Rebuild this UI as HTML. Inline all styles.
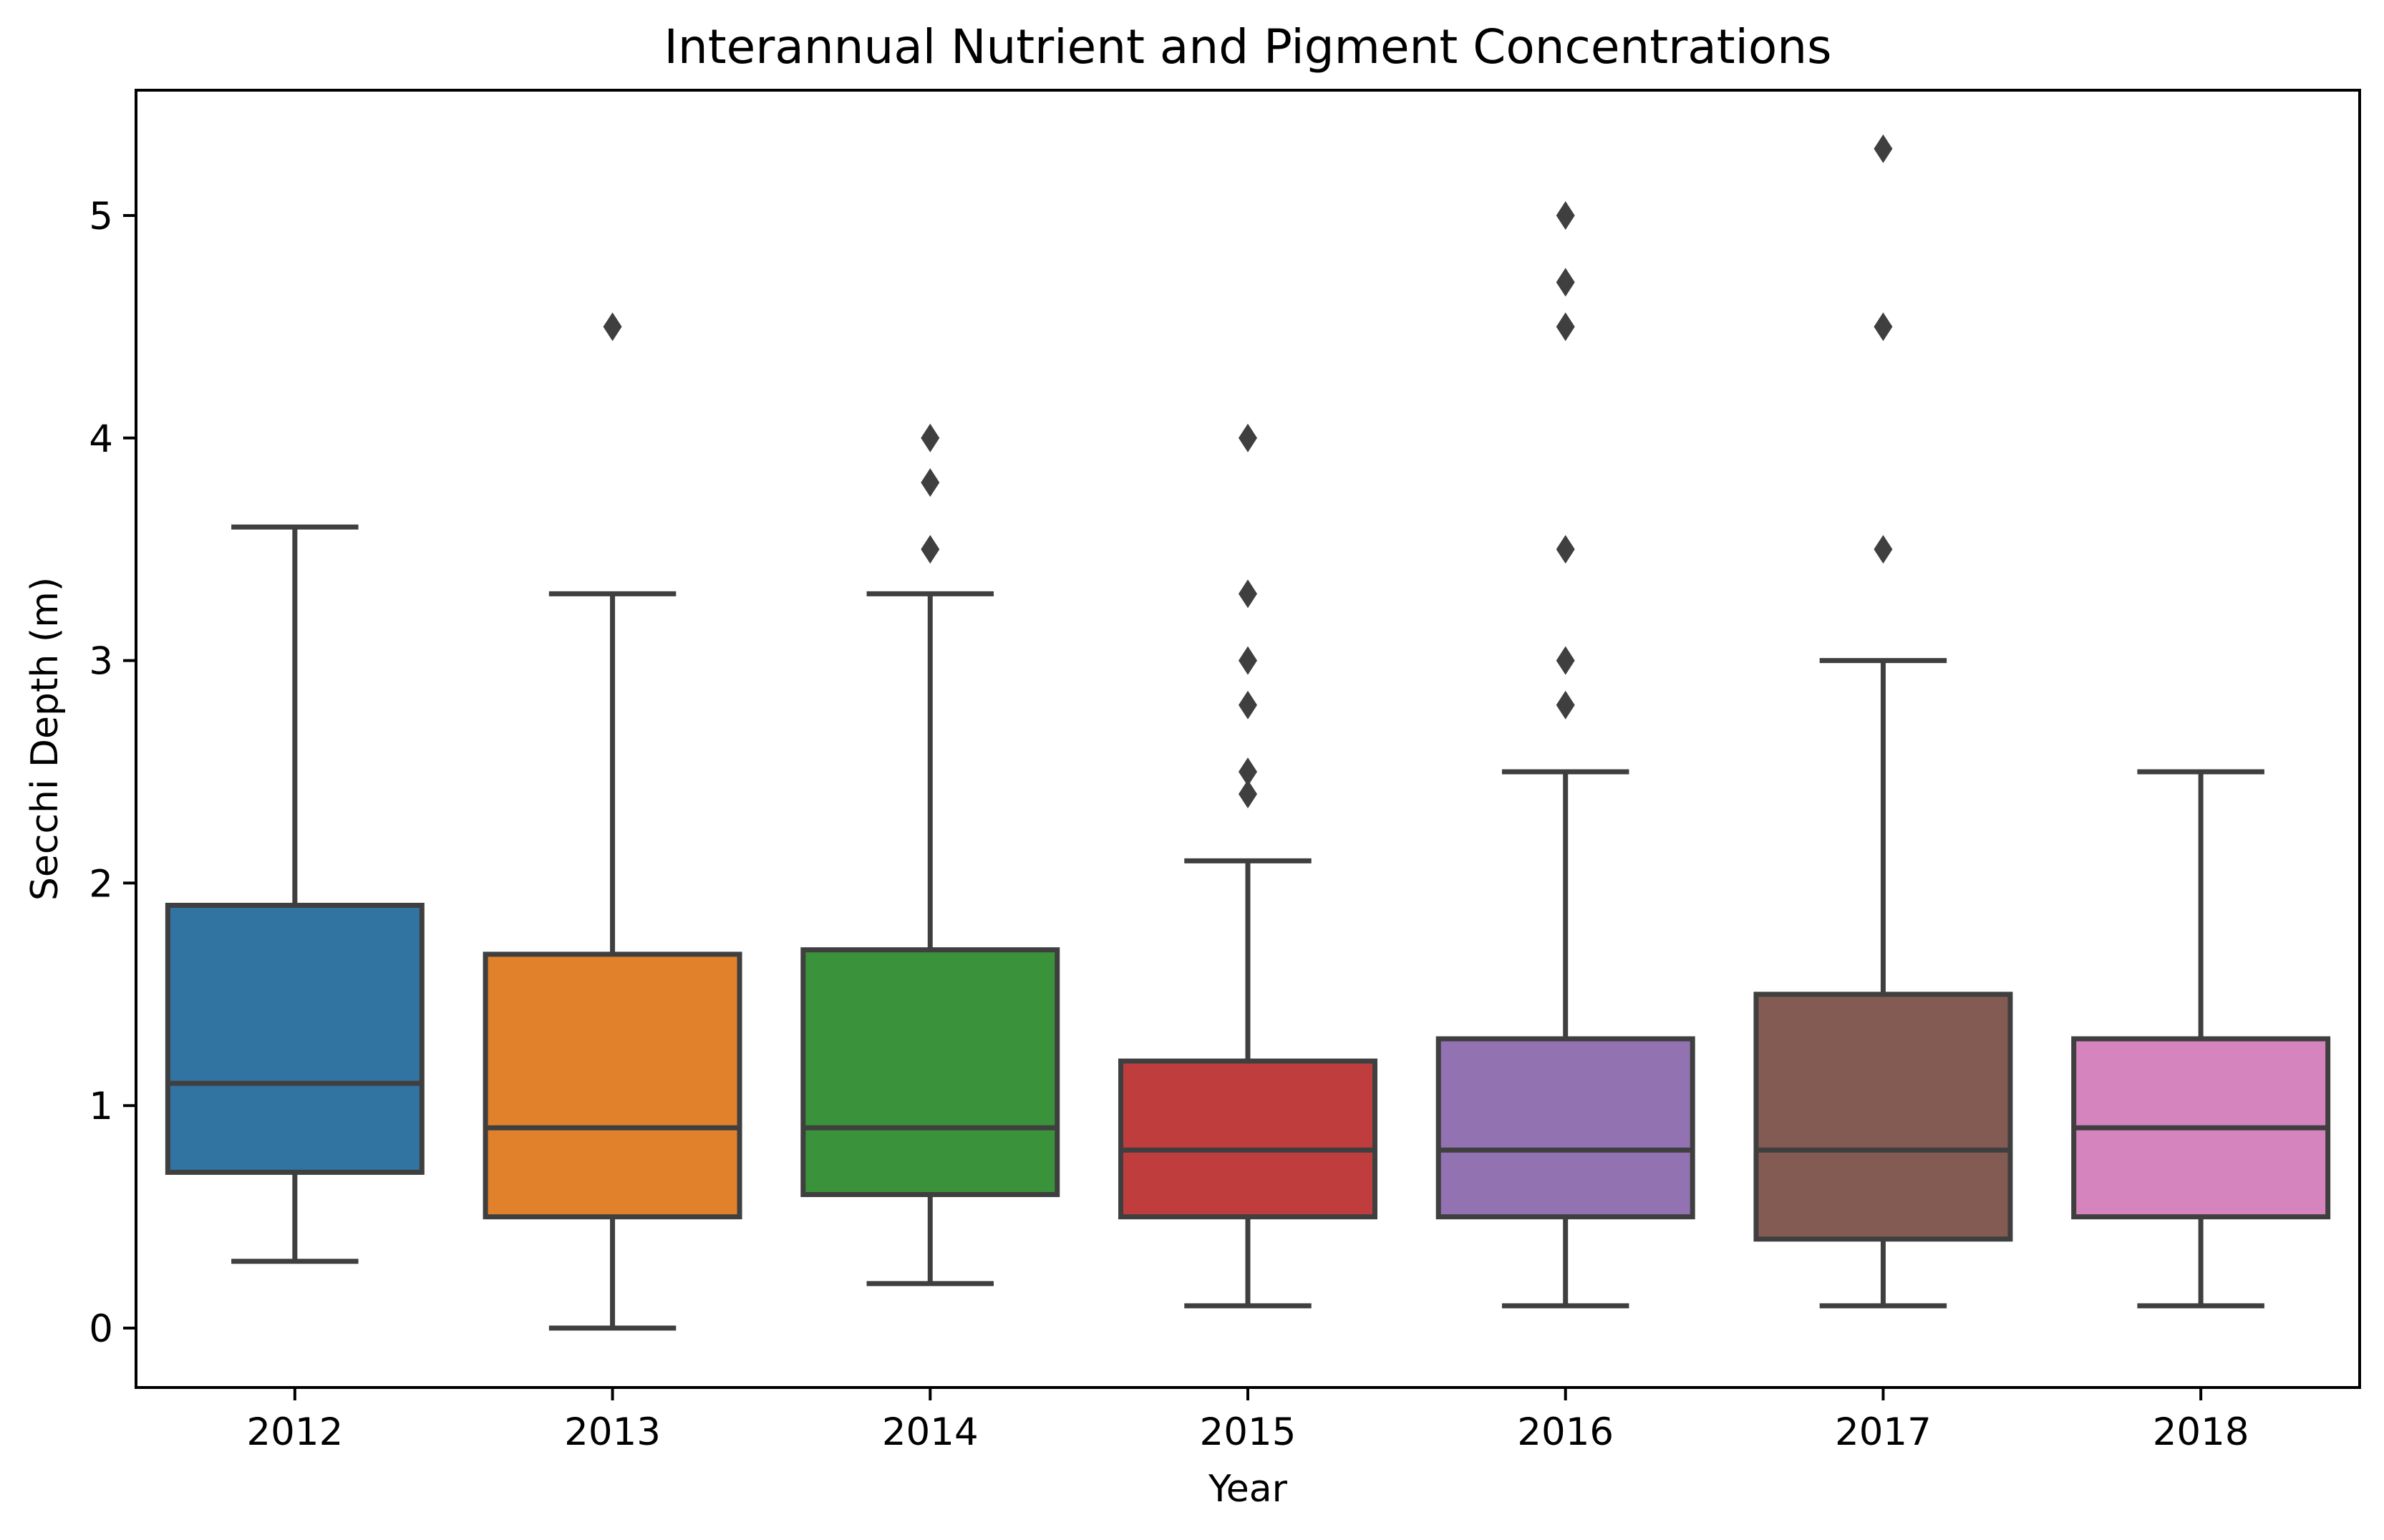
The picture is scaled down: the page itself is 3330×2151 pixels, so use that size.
<!DOCTYPE html>
<html><head><meta charset="utf-8"><style>
html,body{margin:0;padding:0;background:#fff;}
svg text{font-family:"DejaVu Sans","Liberation Sans",sans-serif;fill:#000;}
</style></head><body>
<svg id="chart" width="3330" height="2146" xmlns="http://www.w3.org/2000/svg">
<rect x="0" y="0" width="3330" height="2146" fill="#fff"/>
<text x="1743" y="88" font-size="66" text-anchor="middle">Interannual Nutrient and Pigment Concentrations</text>
<text transform="translate(80,1032) rotate(-90)" font-size="52" text-anchor="middle">Secchi Depth (m)</text>
<text x="1743" y="2097" font-size="52" text-anchor="middle">Year</text>
<g id="marks"></g>
<g id="axes"></g>
</svg>
<script>
const categories = ["2012","2013","2014","2015","2016","2017","2018"];
const whiskerLow = [0.3, 0.0, 0.2, 0.1, 0.1, 0.1, 0.1];
const q1Values = [0.7, 0.5, 0.6, 0.5, 0.5, 0.4, 0.5];
const medianValues = [1.1, 0.9, 0.9, 0.8, 0.8, 0.8, 0.9];
const q3Values = [1.9, 1.68, 1.7, 1.2, 1.3, 1.5, 1.3];
const whiskerHigh = [3.6, 3.3, 3.3, 2.1, 2.5, 3.0, 2.5];
const outliers2012 = [];
const outliers2013 = [4.5];
const outliers2014 = [3.5, 3.8, 4.0];
const outliers2015 = [2.4, 2.5, 2.8, 3.0, 3.3, 4.0];
const outliers2016 = [2.8, 3.0, 3.5, 4.5, 4.7, 5.0];
const outliers2017 = [3.5, 4.5, 5.3];
const outliers2018 = [];
const yTicks = [0, 1, 2, 3, 4, 5];
const colors = ["#3274a1","#e1812c","#3a923a","#c03d3e","#9372b2","#845b53","#d684bd"];
const outlierSets = [outliers2012,outliers2013,outliers2014,outliers2015,outliers2016,outliers2017,outliers2018];

const L=190, R=3296, T=126, B=1938;
const Y0=1855, PER=310.8;
function y(v){return Y0 - v*PER;}
const step=(R-L)/categories.length;
function x(i){return L + step*(i+0.5);}
const boxW=step*0.8, capW=boxW*0.5;
const NS="http://www.w3.org/2000/svg";
const marks=document.getElementById('marks');
const axes=document.getElementById('axes');
function mk(tag,attrs,parent){const e=document.createElementNS(NS,tag);for(const k in attrs)e.setAttribute(k,attrs[k]);parent.appendChild(e);return e;}
const LC="#3f3f3f", LW=7;
categories.forEach((c,i)=>{
  const cx=x(i);
  const wl=mk('line',{x1:cx,x2:cx,y1:y(whiskerLow[i]),y2:y(q1Values[i]),stroke:LC,'stroke-width':LW},marks);
  
  
  const wh=mk('line',{x1:cx,x2:cx,y1:y(q3Values[i]),y2:y(whiskerHigh[i]),stroke:LC,'stroke-width':LW},marks);
  
  
  const cl=mk('line',{x1:cx-capW/2,x2:cx+capW/2,y1:y(whiskerLow[i]),y2:y(whiskerLow[i]),stroke:LC,'stroke-width':LW},marks);
  
  
  const ch=mk('line',{x1:cx-capW/2,x2:cx+capW/2,y1:y(whiskerHigh[i]),y2:y(whiskerHigh[i]),stroke:LC,'stroke-width':LW},marks);
  
  
  const b=mk('rect',{x:cx-boxW/2,y:y(q3Values[i]),width:boxW,height:y(q1Values[i])-y(q3Values[i]),fill:colors[i],stroke:LC,'stroke-width':LW},marks);
  
  
  const m=mk('line',{x1:cx-boxW/2,x2:cx+boxW/2,y1:y(medianValues[i]),y2:y(medianValues[i]),stroke:LC,'stroke-width':LW},marks);
  
  
  outlierSets[i].forEach(v=>{
    const oy=y(v);
    const d=mk('polygon',{points:`${cx},${oy-20} ${cx+13},${oy} ${cx},${oy+20} ${cx-13},${oy}`,fill:LC},marks);
    
    
  });
  const t=mk('line',{x1:cx,x2:cx,y1:B,y2:B+18,stroke:'#000','stroke-width':4},axes);
  
  
  const tl=mk('text',{x:cx,y:B+80,'font-size':53,'text-anchor':'middle'},axes);
  tl.textContent=c;
  
  
});
yTicks.forEach(v=>{
  const t=mk('line',{x1:L-18,x2:L,y1:y(v),y2:y(v),stroke:'#000','stroke-width':4},axes);
  
  
  const tl=mk('text',{x:L-32,y:y(v)+19,'font-size':53,'text-anchor':'end'},axes);
  tl.textContent=String(v);
  
  
});
const frame=mk('rect',{x:L,y:T,width:R-L,height:B-T,fill:'none',stroke:'#000','stroke-width':4},axes);


</script>
</body></html>
